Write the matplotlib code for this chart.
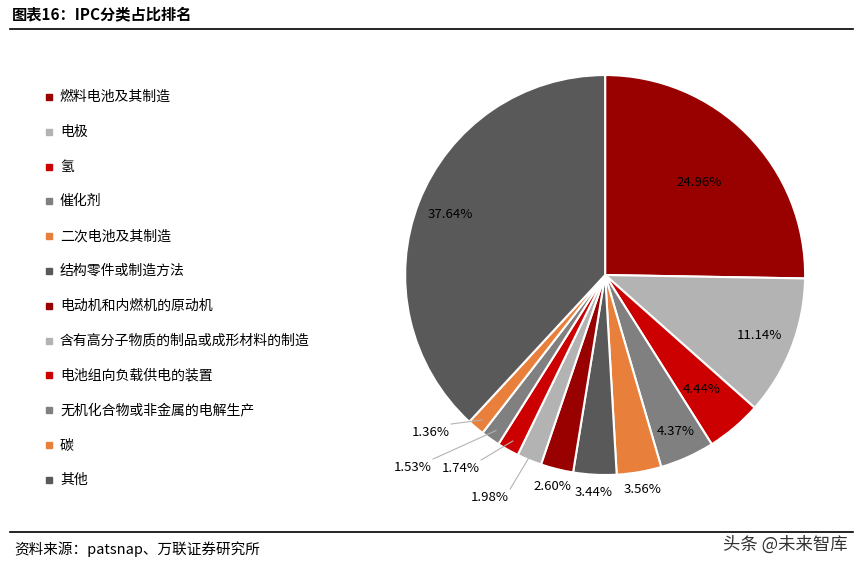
import matplotlib
matplotlib.use("Agg")
import matplotlib.pyplot as plt
from matplotlib.patches import Rectangle
from matplotlib.lines import Line2D
import numpy as np

plt.rcParams['font.family'] = ['Noto Sans CJK SC', 'DejaVu Sans']

categories = ["燃料电池及其制造", "电极", "氢", "催化剂", "二次电池及其制造", "结构零件或制造方法",
              "电动机和内燃机的原动机", "含有高分子物质的制品或成形材料的制造", "电池组向负载供电的装置",
              "无机化合物或非金属的电解生产", "碳", "其他"]
values = [24.96, 11.14, 4.44, 4.37, 3.56, 3.44, 2.60, 1.98, 1.74, 1.53, 1.36, 37.64]
labels = ["24.96%", "11.14%", "4.44%", "4.37%", "3.56%", "3.44%", "2.60%", "1.98%", "1.74%", "1.53%", "1.36%", "37.64%"]
colors = ["#990000", "#b3b3b3", "#cc0000", "#808080", "#e8803c", "#595959",
          "#990000", "#b3b3b3", "#cc0000", "#808080", "#e8803c", "#595959"]

fig = plt.figure(figsize=(8.62, 5.7), dpi=100)
ax = fig.add_axes([0.702 - 0.232, 0.5175 - 0.351, 0.464, 0.702])
wedges, _ = ax.pie(values, colors=colors, startangle=90, counterclock=False,
                   wedgeprops=dict(edgecolor="white", linewidth=1.5))
ax.set_xlim(-1, 1); ax.set_ylim(-1, 1)
ax.set_aspect('equal')

# label placement (radius factor per slice; small ones outside with leaders)
radii = [0.66, 0.83, 0.75, 0.86, 1.09, 1.09, 1.09, None, None, None, None, 0.83]
outside = {7: (-0.575, -1.11), 8: (-0.72, -0.965), 9: (-0.96, -0.96), 10: (-0.87, -0.785)}
for i, w in enumerate(wedges):
    ang = np.deg2rad((w.theta1 + w.theta2) / 2)
    if i in outside:
        tx, ty = outside[i]
        ex, ey = 0.95 * np.cos(ang), 0.95 * np.sin(ang)
        ax.plot([ex, tx + 0.1], [ey, ty + 0.04], color="#b3b3b3", lw=0.8, clip_on=False)
        ax.text(tx, ty, labels[i], ha="center", va="center", fontsize=9.5, color="black")
    else:
        r = radii[i]
        ax.text(r * np.cos(ang), r * np.sin(ang), labels[i], ha="center", va="center",
                fontsize=9.5, color="black")

# legend
for i, c in enumerate(categories):
    y = 1 - (97 + i * 34.8) / 570
    fig.patches.append(Rectangle((46 / 862, y - 3 / 570), 6 / 862, 6 / 570, color=colors[i],
                                 transform=fig.transFigure, figure=fig))
    fig.text(60 / 862, y, c, fontsize=10, va="center", ha="left")

# title and frame lines
fig.text(12 / 862, 1 - 14 / 570, "图表16：IPC分类占比排名", fontsize=11, fontweight="bold", va="center")
fig.add_artist(Line2D([0.012, 0.99], [1 - 29 / 570] * 2, color="black", lw=1.2))
fig.add_artist(Line2D([0.012, 0.99], [1 - 532 / 570] * 2, color="black", lw=1.2))
fig.text(14 / 862, 1 - 549 / 570, "资料来源：patsnap、万联证券研究所", fontsize=10.5, style="italic", va="center")
fig.text(848 / 862, 1 - 545 / 570, "头条 @未来智库", fontsize=12.5, ha="right", va="center", color="#333333")

fig.savefig("out.png", dpi=100)
